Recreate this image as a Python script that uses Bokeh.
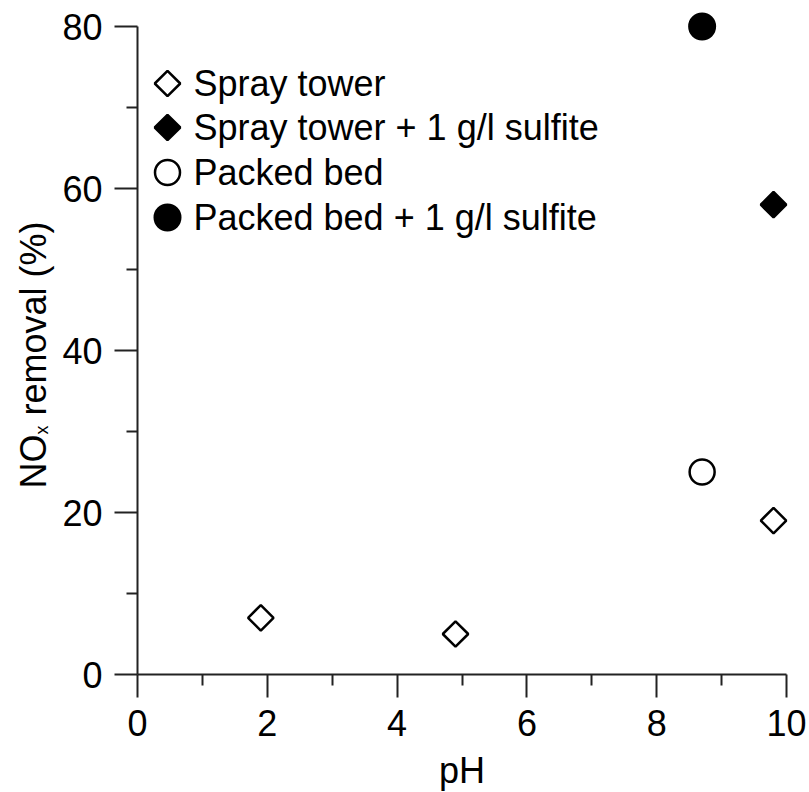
import numpy as np
from bokeh.plotting import figure
from bokeh.models import Range1d, FixedTicker, Label
from bokeh.embed import file_html
from bokeh.resources import INLINE

# ---- data ----
spray_ph = [1.9, 4.9, 9.8]
spray_nox = [7, 5, 19]
spray_sulf_ph = [9.8]
spray_sulf_nox = [58]
packed_ph = [8.7]
packed_nox = [25]
packed_sulf_ph = [8.7]
packed_sulf_nox = [80]

series_labels = ["Spray tower", "Spray tower + 1 g/l sulfite",
                 "Packed bed", "Packed bed + 1 g/l sulfite"]
x_ticks = [0, 2, 4, 6, 8, 10]
x_minor = [1, 3, 5, 7, 9]
y_ticks = [0, 20, 40, 60, 80]
y_minor = [10, 30, 50, 70]

# ---- layout (pixels) ----
W, H = 809, 792
X0PX, XU = 137.0, 64.9      # pixel of pH 0, pixels per pH unit
Y0PX, YU = 674.0, 8.1       # pixel of 0 %, pixels per %

FONT = "Liberation Sans"
FS = "36px"
AX = "#222222"

p = figure(width=W, height=H, title=None,
           x_range=Range1d(-X0PX / XU, (W - X0PX) / XU),
           y_range=Range1d(-(H - Y0PX) / YU, Y0PX / YU),
           output_backend="svg", toolbar_location=None,
           min_border_left=0, min_border_right=0,
           min_border_top=0, min_border_bottom=0)
p.grid.visible = False
p.outline_line_color = None
p.background_fill_color = "white"
p.border_fill_color = "white"

for ax, ticks, minor, bounds in ((p.xaxis, x_ticks, x_minor, (0, 10)),
                                 (p.yaxis, y_ticks, y_minor, (0, 80))):
    ax.fixed_location = 0
    ax.ticker = FixedTicker(ticks=ticks, minor_ticks=minor)
    ax.bounds = bounds
    ax.axis_line_color = AX
    ax.axis_line_width = 2
    ax.major_tick_line_color = AX
    ax.major_tick_line_width = 2
    ax.minor_tick_line_color = AX
    ax.minor_tick_line_width = 2
    ax.major_tick_in = 0
    ax.major_tick_out = 23
    ax.minor_tick_in = 0
    ax.minor_tick_out = 11
    ax.major_label_text_font = FONT
    ax.major_label_text_font_size = FS
    ax.major_label_text_color = "black"
    ax.major_label_standoff = 12

styles = [
    dict(marker="square", angle=np.pi / 4, size=18, fill_color="white",
         line_color="black", line_width=2.5),
    dict(marker="square", angle=np.pi / 4, size=18, fill_color="black",
         line_color="black", line_width=2.5),
    dict(marker="circle", size=25, fill_color="white",
         line_color="black", line_width=2.5),
    dict(marker="circle", size=26, fill_color="black",
         line_color="black", line_width=2),
]
series = [(spray_ph, spray_nox), (spray_sulf_ph, spray_sulf_nox),
          (packed_ph, packed_nox), (packed_sulf_ph, packed_sulf_nox)]

for (xs, ys), st in zip(series, styles):
    p.scatter(xs, ys, **st)

# ---- legend (swatch + label per row) ----
LEG_MARK_PX = 167
LEG_TEXT_PX = 193
LEG_ROW_PX = [83, 127, 172, 217]
for lab, st, rpx in zip(series_labels, styles, LEG_ROW_PX):
    p.scatter([(LEG_MARK_PX - X0PX) / XU], [(Y0PX - rpx) / YU], **st)
    p.add_layout(Label(x=LEG_TEXT_PX, y=H - rpx, x_units="screen", y_units="screen",
                       text=lab, text_font=FONT, text_font_size=FS, text_color="black",
                       text_align="left", text_baseline="middle"))

# ---- y axis title with subscript ----
lab_kw = dict(x_units="screen", y_units="screen", angle=np.pi / 2,
              text_font=FONT, text_color="black",
              text_align="left", text_baseline="middle")
p.add_layout(Label(x=32.5, y=H - 488, text="NO", text_font_size=FS, **lab_kw))
p.add_layout(Label(x=41, y=H - 434, text="x", text_font_size="18px", **lab_kw))
p.add_layout(Label(x=32.5, y=H - 415, text="removal (%)", text_font_size=FS, **lab_kw))

# ---- x axis title ----
p.add_layout(Label(x=(X0PX + 5 * XU), y=H - 770, x_units="screen", y_units="screen",
                   text="pH", text_font=FONT, text_font_size=FS, text_color="black",
                   text_align="center", text_baseline="middle"))

open("out.html", "w").write(file_html(p, INLINE))
